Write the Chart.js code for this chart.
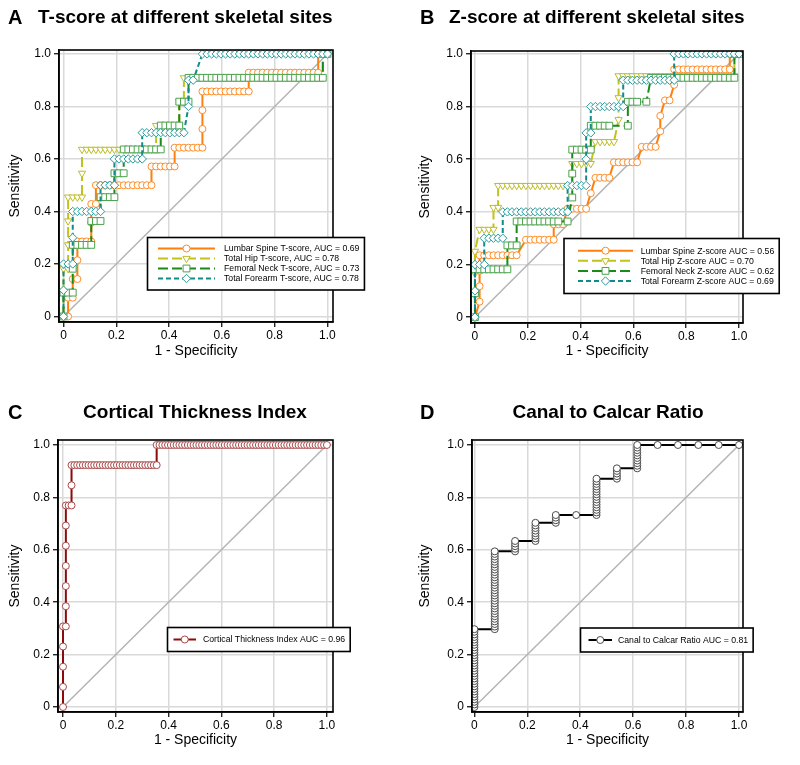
<!DOCTYPE html>
<html><head><meta charset="utf-8">
<script src="https://cdn.jsdelivr.net/npm/chart.js@4.4.1/dist/chart.umd.min.js"></script>
<style>
html,body{margin:0;padding:0;background:#fff;}
#wrap{position:relative;width:800px;height:765px;background:#fff;}
canvas{position:absolute;}
</style></head><body>
<div id="wrap">
<canvas id="cA" width="400" height="383" style="left:0;top:0"></canvas>
<canvas id="cB" width="400" height="383" style="left:400px;top:0"></canvas>
<canvas id="cC" width="400" height="382" style="left:0;top:383px"></canvas>
<canvas id="cD" width="400" height="382" style="left:400px;top:383px"></canvas>
</div>
<script>
// ---------------- DATA ----------------
const tickValues = [0, 0.2, 0.4, 0.6, 0.8, 1.0];
const panelLetters = ['A', 'B', 'C', 'D'];
const panelTitles = ['T-score at different skeletal sites', 'Z-score at different skeletal sites', 'Cortical Thickness Index', 'Canal to Calcar Ratio'];
const xAxisTitle = '1 - Specificity';
const yAxisTitle = 'Sensitivity';

const labelsA = ['Lumbar Spine T-score, AUC = 0.69', 'Total Hip T-score, AUC = 0.78', 'Femoral Neck T-score, AUC = 0.73', 'Total Forearm T-score, AUC = 0.78'];
const labelsB = ['Lumbar Spine Z-score AUC = 0.56', 'Total Hip Z-score AUC = 0.70', 'Femoral Neck Z-score AUC = 0.62', 'Total Forearm Z-score AUC = 0.69'];
const labelC = 'Cortical Thickness Index AUC = 0.96';
const labelD = 'Canal to Calcar Ratio AUC = 0.81';

// ROC points as [false-positive count, true-positive count]
const negA = 57, negB = 57;
const posA = [14, 11, 11, 10];
const posB = [17, 12, 11, 10];

const lumbarT = [[0,0],[1,0],[1,1],[2,1],[2,2],[3,2],[3,3],[3,4],[4,4],[5,4],[6,4],[6,5],[6,6],[7,6],[7,7],[8,7],[9,7],[10,7],[11,7],[12,7],[13,7],[14,7],[15,7],[16,7],[17,7],[18,7],[19,7],[19,8],[20,8],[21,8],[22,8],[23,8],[24,8],[24,9],[25,9],[26,9],[27,9],[28,9],[29,9],[30,9],[30,10],[30,11],[30,12],[31,12],[32,12],[33,12],[34,12],[35,12],[36,12],[37,12],[38,12],[39,12],[40,12],[40,13],[41,13],[42,13],[43,13],[44,13],[45,13],[46,13],[47,13],[48,13],[49,13],[50,13],[51,13],[52,13],[53,13],[54,13],[55,13],[55,14],[56,14],[57,14]];
const hipT = [[0,0],[0,1],[0,2],[1,2],[1,3],[1,4],[1,5],[2,5],[3,5],[4,5],[4,6],[4,7],[5,7],[6,7],[7,7],[8,7],[9,7],[10,7],[11,7],[12,7],[13,7],[14,7],[15,7],[16,7],[17,7],[18,7],[19,7],[20,7],[20,8],[21,8],[22,8],[23,8],[24,8],[25,8],[25,9],[26,9],[26,10],[27,10],[28,10],[29,10],[30,10],[31,10],[32,10],[33,10],[34,10],[35,10],[36,10],[37,10],[38,10],[39,10],[40,10],[41,10],[42,10],[43,10],[44,10],[45,10],[46,10],[47,10],[48,10],[49,10],[50,10],[51,10],[52,10],[53,10],[54,10],[55,10],[56,10],[56,11],[57,11]];
const neckT = [[0,0],[0,1],[1,1],[2,1],[2,2],[2,3],[3,3],[4,3],[5,3],[6,3],[6,4],[7,4],[8,4],[8,5],[9,5],[10,5],[11,5],[11,6],[12,6],[13,6],[13,7],[14,7],[15,7],[16,7],[17,7],[18,7],[19,7],[20,7],[21,7],[21,8],[22,8],[23,8],[24,8],[25,8],[25,9],[26,9],[27,9],[27,10],[28,10],[29,10],[30,10],[31,10],[32,10],[33,10],[34,10],[35,10],[36,10],[37,10],[38,10],[39,10],[40,10],[41,10],[42,10],[43,10],[44,10],[45,10],[46,10],[47,10],[48,10],[49,10],[50,10],[51,10],[52,10],[53,10],[54,10],[55,10],[56,10],[56,11],[57,11]];
const forearmT = [[0,0],[0,1],[0,2],[1,2],[2,2],[2,3],[2,4],[3,4],[4,4],[5,4],[6,4],[7,4],[8,4],[8,5],[9,5],[10,5],[11,5],[11,6],[12,6],[13,6],[14,6],[15,6],[16,6],[17,6],[17,7],[18,7],[19,7],[20,7],[21,7],[22,7],[23,7],[24,7],[25,7],[26,7],[27,8],[27,9],[28,9],[30,10],[31,10],[32,10],[33,10],[34,10],[35,10],[36,10],[37,10],[38,10],[39,10],[40,10],[41,10],[42,10],[43,10],[44,10],[45,10],[46,10],[47,10],[48,10],[49,10],[50,10],[51,10],[52,10],[53,10],[54,10],[55,10],[56,10],[57,10]];

const lumbarZ = [[0,0],[1,1],[1,2],[1,3],[1,4],[2,4],[3,4],[4,4],[5,4],[6,4],[7,4],[8,4],[9,4],[11,5],[12,5],[13,5],[14,5],[15,5],[16,5],[17,5],[17,6],[18,6],[19,6],[20,7],[21,7],[22,7],[23,7],[24,7],[25,8],[26,9],[27,9],[28,9],[29,9],[30,10],[31,10],[32,10],[33,10],[34,10],[35,10],[36,11],[37,11],[38,11],[39,11],[40,12],[40,13],[41,14],[42,14],[43,15],[43,16],[44,16],[45,16],[46,16],[47,16],[48,16],[49,16],[50,16],[51,16],[52,16],[53,16],[54,16],[55,16],[55,17],[56,17],[57,17]];
const hipZ = [[0,0],[0,1],[0,2],[0,3],[1,4],[2,4],[3,4],[4,4],[4,5],[5,5],[5,6],[6,6],[7,6],[8,6],[9,6],[10,6],[11,6],[12,6],[13,6],[14,6],[15,6],[16,6],[17,6],[18,6],[19,6],[20,6],[21,6],[21,7],[22,7],[23,7],[24,7],[25,7],[26,8],[27,8],[28,8],[29,8],[30,8],[31,9],[31,10],[31,11],[32,11],[33,11],[34,11],[35,11],[36,11],[37,11],[38,11],[39,11],[40,11],[41,11],[42,11],[43,11],[44,11],[45,11],[46,11],[47,11],[48,11],[49,11],[50,11],[51,11],[52,11],[53,11],[54,11],[55,11],[56,11],[56,12],[57,12]];
const neckZ = [[0,0],[0,1],[0,2],[1,2],[2,2],[3,2],[4,2],[5,2],[6,2],[7,2],[7,3],[8,3],[9,3],[9,4],[10,4],[11,4],[12,4],[13,4],[14,4],[15,4],[16,4],[17,4],[18,4],[20,4],[21,5],[21,6],[21,7],[22,7],[23,7],[24,7],[25,7],[25,8],[26,8],[27,8],[28,8],[29,8],[33,8],[33,9],[34,9],[35,9],[37,9],[38,10],[39,10],[40,10],[41,10],[42,10],[43,10],[44,10],[45,10],[46,10],[47,10],[48,10],[49,10],[50,10],[51,10],[52,10],[53,10],[54,10],[55,10],[56,10],[56,11],[57,11]];
const forearmZ = [[0,0],[0,1],[0,2],[1,2],[2,2],[2,3],[3,3],[4,3],[5,3],[6,3],[6,4],[7,4],[8,4],[9,4],[10,4],[11,4],[12,4],[13,4],[14,4],[15,4],[16,4],[17,4],[18,4],[19,4],[20,4],[20,5],[21,5],[22,5],[23,5],[24,5],[24,6],[24,7],[25,7],[25,8],[26,8],[27,8],[28,8],[29,8],[30,8],[31,8],[32,8],[32,9],[33,9],[34,9],[35,9],[36,9],[37,9],[38,9],[39,9],[40,9],[41,9],[42,9],[43,9],[43,10],[44,10],[45,10],[46,10],[47,10],[48,10],[49,10],[50,10],[51,10],[52,10],[53,10],[54,10],[55,10],[56,10],[57,10]];

const negC = 93, posC = 13;
const corticalIdx = [[0,0],[0,1],[0,2],[0,3],[0,4],[1,4],[1,5],[1,6],[1,7],[1,8],[1,9],[1,10],[2,10],[3,10],[3,11],[3,12],[4,12],[5,12],[6,12],[7,12],[8,12],[9,12],[10,12],[11,12],[12,12],[13,12],[14,12],[15,12],[16,12],[17,12],[18,12],[19,12],[20,12],[21,12],[22,12],[23,12],[24,12],[25,12],[26,12],[27,12],[28,12],[29,12],[30,12],[31,12],[32,12],[33,12],[33,13],[34,13],[35,13],[36,13],[37,13],[38,13],[39,13],[40,13],[41,13],[42,13],[43,13],[44,13],[45,13],[46,13],[47,13],[48,13],[49,13],[50,13],[51,13],[52,13],[53,13],[54,13],[55,13],[56,13],[57,13],[58,13],[59,13],[60,13],[61,13],[62,13],[63,13],[64,13],[65,13],[66,13],[67,13],[68,13],[69,13],[70,13],[71,13],[72,13],[73,13],[74,13],[75,13],[76,13],[77,13],[78,13],[79,13],[80,13],[81,13],[82,13],[83,13],[84,13],[85,13],[86,13],[87,13],[88,13],[89,13],[90,13],[91,13],[92,13],[93,13]];

const negD = 13, posD = 101;
const canalRatio = [[0,0],[0,1],[0,2],[0,3],[0,4],[0,5],[0,6],[0,7],[0,8],[0,9],[0,10],[0,11],[0,12],[0,13],[0,14],[0,15],[0,16],[0,17],[0,18],[0,19],[0,20],[0,21],[0,22],[0,23],[0,24],[0,25],[0,26],[0,27],[0,28],[0,29],[0,30],
[1,30],[1,31],[1,32],[1,33],[1,34],[1,35],[1,36],[1,37],[1,38],[1,39],[1,40],[1,41],[1,42],[1,43],[1,44],[1,45],[1,46],[1,47],[1,48],[1,49],[1,50],[1,51],[1,52],[1,53],[1,54],[1,55],[1,56],[1,57],[1,58],[1,59],[1,60],
[2,60],[2,61],[2,62],[2,63],[2,64],
[3,64],[3,65],[3,66],[3,67],[3,68],[3,69],[3,70],[3,71],
[4,71],[4,72],[4,73],[4,74],
[5,74],
[6,74],[6,75],[6,76],[6,77],[6,78],[6,79],[6,80],[6,81],[6,82],[6,83],[6,84],[6,85],[6,86],[6,87],[6,88],
[7,88],[7,89],[7,90],[7,91],[7,92],
[8,92],[8,93],[8,94],[8,95],[8,96],[8,97],[8,98],[8,99],[8,100],[8,101],
[9,101],[10,101],[11,101],[12,101],[13,101]];

// ---------------- RENDERING ----------------
const FONT = '"Liberation Sans", Arial, Helvetica, sans-serif';

function toXY(pairs, nNeg, nPos) {
  return pairs.map(p => ({ x: p[0] / nNeg, y: p[1] / nPos }));
}

const STY = {
  lumbar:  { line: '#ff7f0e', mark: '#ff8c26', dash: [],     shape: 'circle',   rot: 0,   r: 3.5, order: 4 },
  hip:     { line: '#c2c21c', mark: '#bdbd2a', dash: [10, 4], shape: 'triangle', rot: 180, r: 4.2, order: 3 },
  neck:    { line: '#1a8a1a', mark: '#4ca24c', dash: [10, 4], shape: 'rect',     rot: 0,   r: 4.8, order: 2 },
  forearm: { line: '#138a8a', mark: '#2b9b9b', dash: [5, 3],  shape: 'rectRot',  rot: 0,   r: 4.2, order: 1 },
  cti:     { line: '#8b0a0a', mark: '#a84848', dash: [],     shape: 'circle',   rot: 0,   r: 3.5, order: 1 },
  ccr:     { line: '#000000', mark: '#4a4a4a', dash: [],     shape: 'circle',   rot: 0,   r: 3.5, order: 1 }
};

function rocDataset(label, pairs, nNeg, nPos, s) {
  return {
    label, data: toXY(pairs, nNeg, nPos), showLine: true,
    borderColor: s.line, borderWidth: 2, borderDash: s.dash,
    pointStyle: s.shape, pointRotation: s.rot, pointRadius: s.r,
    pointBorderColor: s.mark, pointBackgroundColor: '#ffffff', pointBorderWidth: 1,
    pointHoverRadius: s.r, fill: false, tension: 0, order: s.order, _sty: s
  };
}
function diagonal() {
  return { label: '', data: [{x: 0, y: 0}, {x: 1, y: 1}], showLine: true, borderColor: '#b4b4b4',
           borderWidth: 1.5, pointRadius: 0, fill: false, order: 99, _diag: true };
}

function drawMarker(ctx, s, x, y) {
  const r = s.r;
  ctx.save();
  ctx.setLineDash([]);
  ctx.lineWidth = 1; ctx.strokeStyle = s.mark; ctx.fillStyle = '#fff';
  ctx.beginPath();
  if (s.shape === 'circle') {
    ctx.arc(x, y, r, 0, Math.PI * 2);
  } else if (s.shape === 'triangle') {
    let rad = s.rot * Math.PI / 180;
    ctx.moveTo(x + Math.sin(rad) * r, y - Math.cos(rad) * r);
    rad += 2 * Math.PI / 3;
    ctx.lineTo(x + Math.sin(rad) * r, y - Math.cos(rad) * r);
    rad += 2 * Math.PI / 3;
    ctx.lineTo(x + Math.sin(rad) * r, y - Math.cos(rad) * r);
    ctx.closePath();
  } else if (s.shape === 'rect') {
    const h = r * Math.SQRT1_2;
    ctx.rect(x - h, y - h, 2 * h, 2 * h);
  } else if (s.shape === 'rectRot') {
    ctx.moveTo(x, y - r); ctx.lineTo(x + r, y); ctx.lineTo(x, y + r); ctx.lineTo(x - r, y); ctx.closePath();
  }
  ctx.fill(); ctx.stroke();
  ctx.restore();
}

const decor = {
  id: 'decor',
  afterDraw(chart, args, o) {
    const ctx = chart.ctx, ca = chart.chartArea;
    ctx.save();
    ctx.strokeStyle = '#000'; ctx.lineWidth = 1.6; ctx.setLineDash([]);
    ctx.strokeRect(ca.left, ca.top, ca.right - ca.left, ca.bottom - ca.top);
    ctx.fillStyle = '#000'; ctx.textBaseline = 'middle';
    ctx.font = 'bold 20px ' + FONT; ctx.textAlign = 'left';
    ctx.fillText(o.letter, o.letterX, o.titleY);
    ctx.font = 'bold 19px ' + FONT; ctx.textAlign = o.titleAlign;
    ctx.fillText(o.title, o.titleX, o.titleY);
    const L = o.legend;
    const items = chart.data.datasets.filter(d => !d._diag);
    ctx.font = L.fontSize + 'px ' + FONT;
    let maxW = 0;
    items.forEach(d => { maxW = Math.max(maxW, ctx.measureText(d.label).width); });
    const right = L.textX + maxW + L.padR;
    ctx.fillStyle = '#fff';
    ctx.fillRect(L.left, L.top, right - L.left, L.bottom - L.top);
    ctx.strokeStyle = '#000'; ctx.lineWidth = 1.6;
    ctx.strokeRect(L.left, L.top, right - L.left, L.bottom - L.top);
    items.forEach((d, i) => {
      const y = L.rowY + i * L.rowStep;
      const s = d._sty;
      ctx.save();
      ctx.strokeStyle = s.line; ctx.lineWidth = 2; ctx.setLineDash(s.dash);
      ctx.beginPath(); ctx.moveTo(L.lineX0, y); ctx.lineTo(L.lineX1, y); ctx.stroke();
      ctx.restore();
      drawMarker(ctx, s, (L.lineX0 + L.lineX1) / 2, y);
      ctx.fillStyle = '#000'; ctx.textAlign = 'left'; ctx.textBaseline = 'middle';
      ctx.font = L.fontSize + 'px ' + FONT;
      ctx.fillText(d.label, L.textX, y + 0.5);
    });
    ctx.restore();
  }
};

function fmtTick(v) { return v === 0 ? '0' : v.toFixed(1); }

function makeChart(id, datasets, g) {
  const axisCommon = {
    type: 'linear',
    afterBuildTicks: s => { s.ticks = tickValues.map(v => ({ value: v })); },
    grid: { color: '#d9d9d9', lineWidth: 1.5, tickColor: '#000', tickLength: 5, drawTicks: true, tickWidth: 1.2 },
    border: { display: true, color: '#000', width: 1.6 },
    ticks: { callback: fmtTick, color: '#000', font: { size: 12, family: FONT }, maxRotation: 0, autoSkip: false }
  };
  return new Chart(document.getElementById(id), {
    type: 'scatter',
    data: { datasets: datasets },
    options: {
      responsive: false, animation: false, devicePixelRatio: 1, events: [],
      layout: { padding: g.pad },
      scales: {
        x: Object.assign({}, axisCommon, {
          min: g.xmin, max: g.xmax,
          afterFit: s => { s.height = g.xh; },
          ticks: Object.assign({}, axisCommon.ticks, { padding: 1 }),
          title: { display: true, text: xAxisTitle, color: '#000', font: { size: 14, family: FONT }, padding: { top: 0, bottom: g.xtp } }
        }),
        y: Object.assign({}, axisCommon, {
          min: g.ymin, max: g.ymax,
          afterFit: s => { s.width = g.yw; },
          ticks: Object.assign({}, axisCommon.ticks, { padding: 3 }),
          title: { display: true, text: yAxisTitle, color: '#000', font: { size: 14, family: FONT }, padding: { top: g.ytp, bottom: 0 } }
        })
      },
      plugins: {
        legend: { display: false }, tooltip: { enabled: false },
        decor: g.decor
      }
    },
    plugins: [decor]
  });
}

const dsA = [
  rocDataset(labelsA[0], lumbarT, negA, posA[0], STY.lumbar),
  rocDataset(labelsA[1], hipT, negA, posA[1], STY.hip),
  rocDataset(labelsA[2], neckT, negA, posA[2], STY.neck),
  rocDataset(labelsA[3], forearmT, negA, posA[3], STY.forearm),
  diagonal()
];
const dsB = [
  rocDataset(labelsB[0], lumbarZ, negB, posB[0], STY.lumbar),
  rocDataset(labelsB[1], hipZ, negB, posB[1], STY.hip),
  rocDataset(labelsB[2], neckZ, negB, posB[2], STY.neck),
  rocDataset(labelsB[3], forearmZ, negB, posB[3], STY.forearm),
  diagonal()
];
const dsC = [rocDataset(labelC, corticalIdx, negC, posC, STY.cti), diagonal()];
const dsD = [rocDataset(labelD, canalRatio, negD, posD, STY.ccr), diagonal()];

makeChart('cA', dsA, {
  pad: { left: 0, top: 50, right: 67, bottom: 16 }, xh: 45, yw: 59, xtp: 7.6, ytp: 6.6,
  xmin: -0.017, xmax: 1.021, ymin: -0.021, ymax: 1.015,
  decor: { letter: panelLetters[0], letterX: 8, title: panelTitles[0], titleX: 38, titleAlign: 'left', titleY: 18,
    legend: { left: 147.5, top: 237.5, bottom: 290, rowY: 248.5, rowStep: 10, lineX0: 158, lineX1: 215, textX: 224, fontSize: 8.7, padR: 5 } }
});
makeChart('cB', dsB, {
  pad: { left: 12, top: 51, right: 57, bottom: 15 }, xh: 45, yw: 59, xtp: 8.6, ytp: 4.6,
  xmin: -0.015, xmax: 1.015, ymin: -0.022, ymax: 1.011,
  decor: { letter: panelLetters[1], letterX: 20, title: panelTitles[1], titleX: 49, titleAlign: 'left', titleY: 18,
    legend: { left: 164, top: 238.5, bottom: 293.5, rowY: 250.7, rowStep: 10.1, lineX0: 178, lineX1: 233, textX: 240.7, fontSize: 8.7, padR: 5 } }
});
makeChart('cC', dsC, {
  pad: { left: 0, top: 57, right: 67, bottom: 8 }, xh: 45, yw: 58, xtp: 8.6, ytp: 6.6,
  xmin: -0.019, xmax: 1.023, ymin: -0.019, ymax: 1.019,
  decor: { letter: panelLetters[2], letterX: 8, title: panelTitles[2], titleX: 195, titleAlign: 'center', titleY: 30,
    legend: { left: 167.5, top: 244.5, bottom: 268.5, rowY: 256.5, rowStep: 10, lineX0: 173.5, lineX1: 196, textX: 203, fontSize: 8.7, padR: 5 } }
});
makeChart('cD', dsD, {
  pad: { left: 12, top: 57, right: 57, bottom: 8 }, xh: 45, yw: 60, xtp: 8.6, ytp: 4.6,
  xmin: -0.009, xmax: 1.015, ymin: -0.019, ymax: 1.019,
  decor: { letter: panelLetters[3], letterX: 20, title: panelTitles[3], titleX: 208, titleAlign: 'center', titleY: 30,
    legend: { left: 180.5, top: 245, bottom: 269, rowY: 257, rowStep: 10, lineX0: 188.5, lineX1: 212, textX: 218, fontSize: 8.7, padR: 5 } }
});
</script>
</body></html>
